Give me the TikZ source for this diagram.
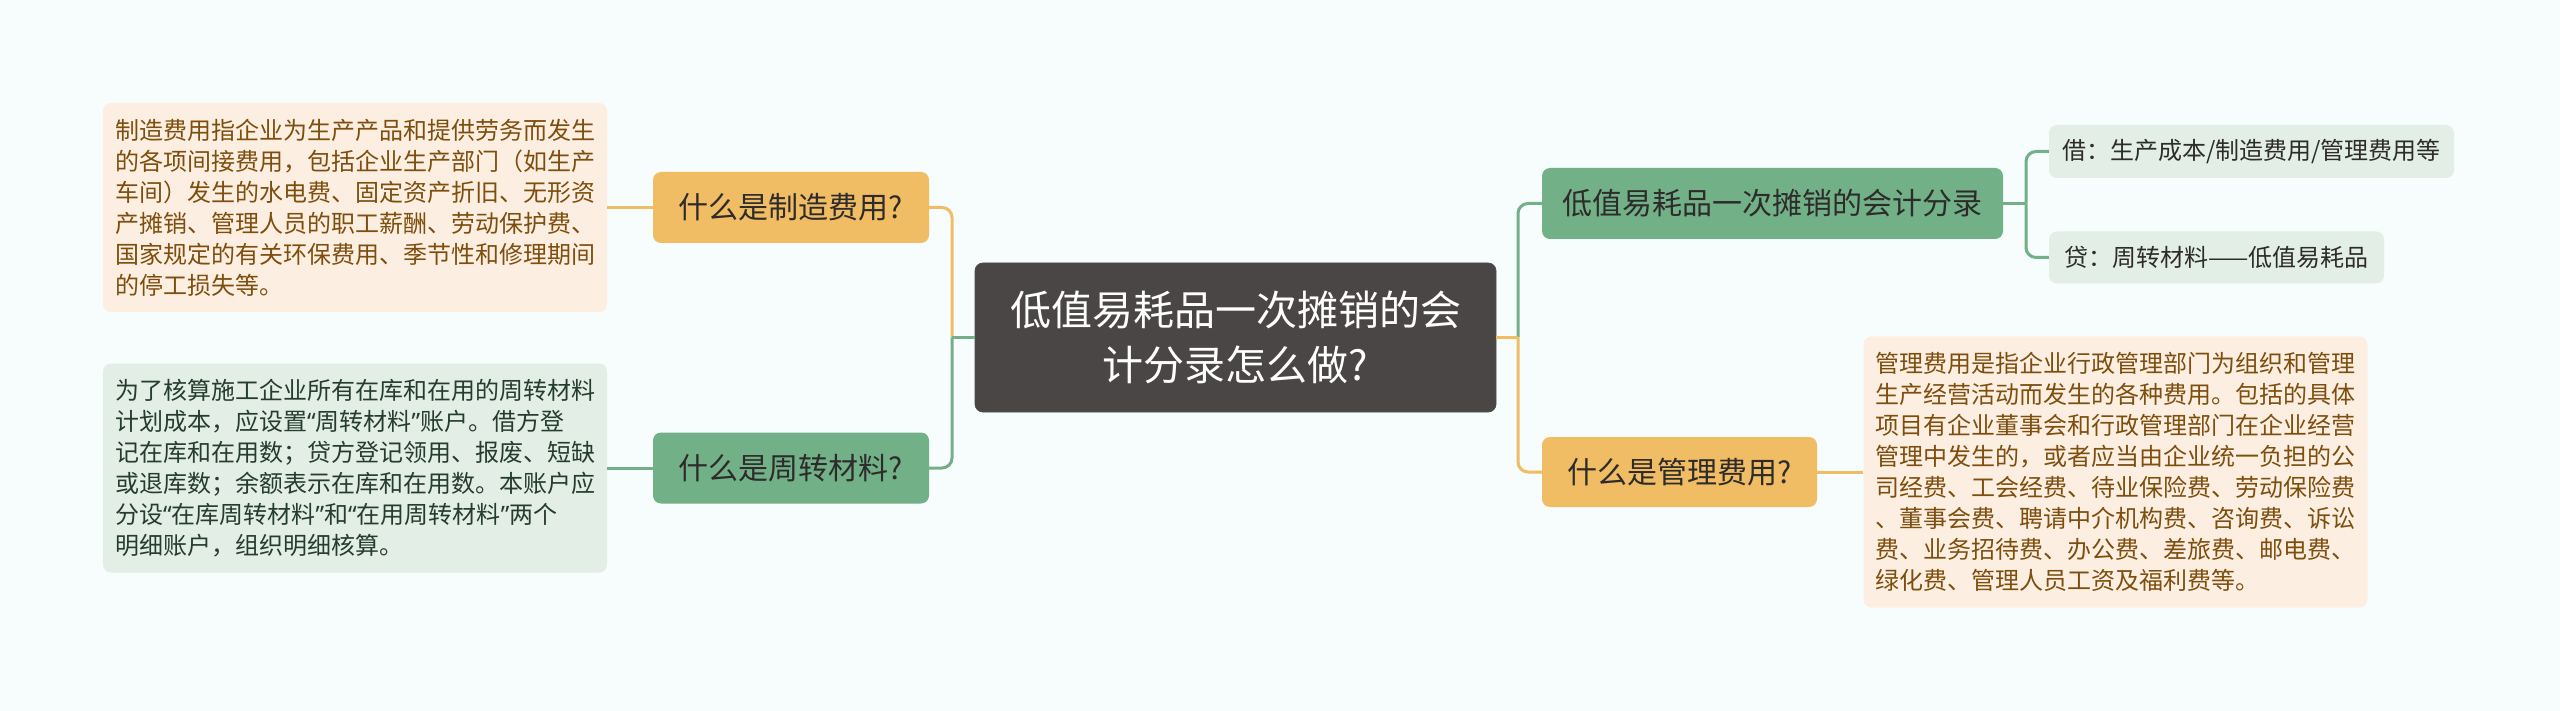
\documentclass[tikz,border=0pt]{standalone}
\usepackage{fontspec}
\setmainfont{Noto Sans CJK SC}
\newfontfamily\quotefont{Noto Sans}
\newcommand{\myLq}{{\quotefont “}}
\newcommand{\myRq}{{\quotefont ”}}
\definecolor{bgc}{HTML}{F7FCFC}
\definecolor{darkc}{HTML}{4B4646}
\definecolor{orangec}{HTML}{F0BC64}
\definecolor{greenc}{HTML}{72B188}
\definecolor{lorange}{HTML}{FCEFE1}
\definecolor{lgreen}{HTML}{E2EEE6}
\definecolor{browntxt}{HTML}{7E4E0E}
\definecolor{greentxt}{HTML}{263D2E}
\definecolor{labeltxt}{HTML}{2E2B2B}
\tikzset{
  box/.style={rounded corners=8pt, inner sep=0pt, align=center},
  centerbox/.style={box, fill=darkc, draw=black!70, line width=0.8pt, text=white,
    minimum width=521pt, minimum height=149pt,
    font=\fontsize{41}{55}\selectfont},
  onode/.style={box, fill=orangec, text=labeltxt, font=\fontsize{30}{36}\selectfont},
  gnode/.style={box, fill=greenc, text=labeltxt, font=\fontsize{30}{36}\selectfont},
  leafbase/.style={rounded corners=8pt, inner xsep=12pt, inner ysep=0pt, align=left,
    font=\fontsize{24}{31}\selectfont},
  oleaf/.style={leafbase, fill=lorange, text=browntxt},
  gleaf/.style={leafbase, fill=lgreen, text=greentxt},
  sleaf/.style={box, fill=lgreen, text=labeltxt, font=\fontsize{24}{30}\selectfont},
  oline/.style={draw=orangec, line width=3pt, rounded corners=10pt},
  gline/.style={draw=greenc, line width=3pt, rounded corners=10pt}
}
\begin{document}
\begin{tikzpicture}[x=1pt,y=-1pt]
\fill[bgc] (0,0) rectangle (2560,711);
\useasboundingbox (0,0) rectangle (2560,711);

% center
\node[centerbox] (c) at (1235.5,337.5) {低值易耗品一次摊销的会\\计分录怎么做?};

% left branch nodes
\node[onode, minimum width=276pt, minimum height=71pt] (l1) at (791,207.5) {什么是制造费用?};
\node[gnode, minimum width=276pt, minimum height=71pt] (l2) at (791,468) {什么是周转材料?};

% right branch nodes
\node[gnode, minimum width=461pt, minimum height=71pt] (r1) at (1772.5,203.5) {低值易耗品一次摊销的会计分录};
\node[onode, minimum width=275pt, minimum height=70pt] (r2) at (1679.5,472) {什么是管理费用?};

% leaves
\node[oleaf, text width=480pt, minimum height=209pt] (ll1) at (355,207.5) {制造费用指企业为生产产品和提供劳务而发生\\的各项间接费用，包括企业生产部门（如生产\\车间）发生的水电费、固定资产折旧、无形资\\产摊销、管理人员的职工薪酬、劳动保护费、\\国家规定的有关环保费用、季节性和修理期间\\的停工损失等。};
\node[gleaf, text width=480pt, minimum height=209pt] (ll2) at (355,468) {为了核算施工企业所有在库和在用的周转材料\\计划成本，应设置\myLq 周转材料\myRq 账户。借方登\\记在库和在用数；贷方登记领用、报废、短缺\\或退库数；余额表示在库和在用数。本账户应\\分设\myLq 在库周转材料\myRq 和\myLq 在用周转材料\myRq 两个\\明细账户，组织明细核算。};
\node[oleaf, text width=480pt, minimum height=271pt] (rl2) at (2115.5,472) {管理费用是指企业行政管理部门为组织和管理\\生产经营活动而发生的各种费用。包括的具体\\项目有企业董事会和行政管理部门在企业经营\\管理中发生的，或者应当由企业统一负担的公\\司经费、工会经费、待业保险费、劳动保险费\\、董事会费、聘请中介机构费、咨询费、诉讼\\费、业务招待费、办公费、差旅费、邮电费、\\绿化费、管理人员工资及福利费等。};
\node[sleaf, minimum width=405pt, minimum height=53pt] (rs1) at (2251.5,151.5) {借：生产成本/制造费用/管理费用等};
\node[sleaf, minimum width=335pt, minimum height=52pt] (rs2) at (2216.5,257.5) {贷：周转材料——低值易耗品};

% junction coordinates
\coordinate (jl) at (952,337.5);
\coordinate (jr) at (1518,337.5);
\coordinate (jr1) at (2026,203.5);

% left connectors
\draw[oline] (jl) |- (l1.east);
\draw[gline] (jl) |- (l2.east);
\draw[gline] (c.west) -- (jl);
\draw[oline] (l1.west) -- (ll1.east);
\draw[gline] (l2.west) -- (ll2.east);

% right connectors
\draw[gline] (jr) |- (r1.west);
\draw[oline] (jr) |- (r2.west);
\draw[oline] (c.east) -- (jr);
\draw[oline] (r2.east) -- (rl2.west);
\draw[gline] (r1.east) -- (jr1);
\draw[gline] (jr1) |- (rs1.west);
\draw[gline] (jr1) |- (rs2.west);
\end{tikzpicture}
\end{document}
